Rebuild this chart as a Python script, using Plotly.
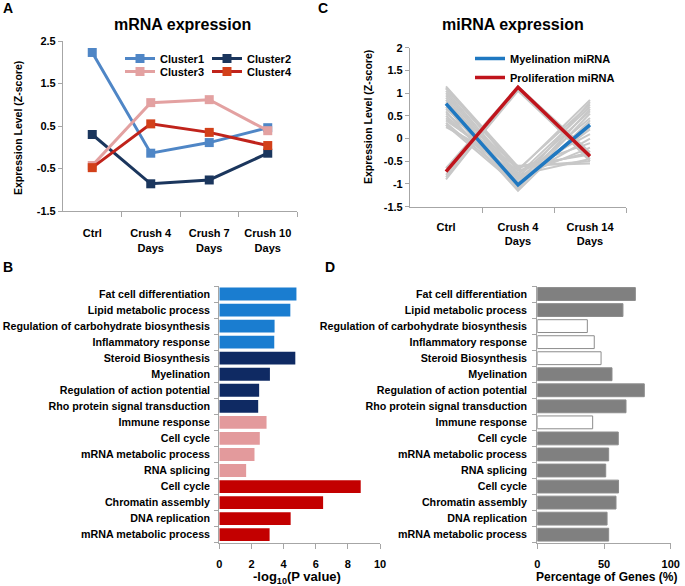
import plotly.graph_objects as go

# ---------------- data ----------------
a_times = ["Ctrl", "Crush 4<br>Days", "Crush 7<br>Days", "Crush 10<br>Days"]
cluster1 = [2.23, -0.14, 0.11, 0.46]
cluster2 = [0.30, -0.86, -0.77, -0.14]
cluster3 = [-0.43, 1.05, 1.12, 0.39]
cluster4 = [-0.48, 0.55, 0.35, 0.04]

c_times = ["Ctrl", "Crush 4<br>Days", "Crush 14<br>Days"]
myelination = [0.77, -1.02, 0.30]
proliferation = [-0.73, 1.13, -0.39]
grey_mirnas = [
    [1.15, -0.62, -0.50], [1.10, -0.70, 0.85], [1.05, -0.80, 0.70],
    [1.00, -0.85, 0.60], [0.95, -0.90, 0.45], [0.90, -1.00, 0.80],
    [0.85, -1.05, 0.35], [0.80, -0.95, 0.20], [0.70, -1.10, 0.55],
    [0.65, -0.75, 0.10], [0.60, -1.15, 0.40], [0.55, -0.65, -0.10],
    [0.50, -0.90, 0.00], [0.45, -0.85, -0.20], [0.40, -0.70, -0.30],
    [0.35, -1.00, 0.25], [0.30, -0.80, -0.45], [0.25, -0.60, -0.55],
    [0.30, -1.05, 0.65], [1.12, -0.68, 0.75], [0.75, -0.62, -0.35],
    [-0.90, 1.10, -0.35], [-0.85, 1.05, -0.45],
    [-0.65, 1.15, -0.30], [-0.80, 1.12, -0.50],
]

go_terms = [
    "Fat cell differentiation", "Lipid metabolic process",
    "Regulation of carbohydrate biosynthesis", "Inflammatory response",
    "Steroid Biosynthesis", "Myelination", "Regulation of action potential",
    "Rho protein signal transduction", "Immune response", "Cell cycle",
    "mRNA metabolic process", "RNA splicing", "Cell cycle",
    "Chromatin assembly", "DNA replication", "mRNA metabolic process",
]
go_cluster = [1, 1, 1, 1, 2, 2, 2, 2, 3, 3, 3, 3, 4, 4, 4, 4]
neg_log_p = [4.80, 4.42, 3.44, 3.42, 4.73, 3.15, 2.48, 2.42,
             2.94, 2.52, 2.19, 1.67, 8.80, 6.46, 4.44, 3.13]
pct_genes = [73.5, 64.2, 37.5, 42.7, 47.8, 56.0, 80.2, 66.5,
             41.5, 60.7, 53.5, 51.3, 60.9, 59.0, 52.3, 53.5]
pct_filled = [True, True, False, False, False, True, True, True,
              False, True, True, True, True, True, True, True]

# ---------------- style ----------------
FONT = "Liberation Sans, Arial, sans-serif"
AX = "#a6a6a6"
cl_line = {1: "#4f86c6", 2: "#1b365d", 3: "#e3a1a1", 4: "#c0231b"}
cl_mark = {1: "#4f86c6", 2: "#1b365d", 3: "#e3a1a1", 4: "#d2401a"}
bar_col = {1: "#1a7dd0", 2: "#0f2a63", 3: "#e39a9c", 4: "#c30000"}

fig = go.Figure()

# Panel A
for i, (name, vals) in enumerate([("Cluster1", cluster1), ("Cluster2", cluster2),
                                  ("Cluster3", cluster3), ("Cluster4", cluster4)]):
    k = i + 1
    fig.add_trace(go.Scatter(
        x=list(range(len(a_times))), y=vals, name=name, mode="lines+markers",
        line=dict(color=cl_line[k], width=3),
        marker=dict(symbol="square", size=9, color=cl_mark[k]),
        xaxis="x", yaxis="y", legend="legend" if k in (1, 2) else "legend2",
    ))

# Panel C
for g in grey_mirnas:
    fig.add_trace(go.Scatter(
        x=list(range(len(c_times))), y=g, mode="lines", showlegend=False,
        line=dict(color="#c8c8c8", width=2), xaxis="x2", yaxis="y2",
        hoverinfo="skip",
    ))
fig.add_trace(go.Scatter(x=list(range(len(c_times))), y=myelination, mode="lines",
                         name="Myelination miRNA", line=dict(color="#1f78c1", width=3.5),
                         xaxis="x2", yaxis="y2", legend="legend3"))
fig.add_trace(go.Scatter(x=list(range(len(c_times))), y=proliferation, mode="lines",
                         name="Proliferation miRNA", line=dict(color="#c0141c", width=3.5),
                         xaxis="x2", yaxis="y2", legend="legend3"))

# Panel B
fig.add_trace(go.Bar(
    x=neg_log_p, y=list(range(len(go_terms))), orientation="h", showlegend=False,
    marker=dict(color=[bar_col[c] for c in go_cluster], line=dict(width=0)),
    xaxis="x3", yaxis="y3",
))
# Panel D
fig.add_trace(go.Bar(
    x=pct_genes, y=list(range(len(go_terms))), orientation="h", showlegend=False,
    marker=dict(color=["#808080" if f else "#ffffff" for f in pct_filled],
                line=dict(color="#8c8c8c", width=1)),
    xaxis="x4", yaxis="y4",
))

W, H = 685, 586
def px(x):
    return x / W
def py(y):
    return 1 - y / H

tickfont = dict(family=FONT, size=11, color="#000000", weight="bold")
catfont = dict(family=FONT, size=10.7, color="#000000", weight="bold")

def line_axis(dom, rng, **kw):
    d = dict(domain=dom, range=rng, showline=True, linecolor=AX, linewidth=1.2,
             showgrid=False, zeroline=False, tickfont=tickfont, ticks="outside",
             ticklen=4, tickcolor=AX, automargin=False, fixedrange=True)
    d.update(kw)
    return d

legfont = dict(family=FONT, size=11, weight="bold", color="#000000")

layout = dict(
    width=W, height=H, margin=dict(l=0, r=0, t=0, b=0, autoexpand=False),
    plot_bgcolor="white", paper_bgcolor="white",
    font=dict(family=FONT, size=11, color="#000000"),
    bargap=0.2,
    # A
    xaxis=line_axis([px(63), px(297)], [-0.5, 3.5], anchor="y",
                    tickvals=list(range(4)), ticktext=a_times, ticks="",
                    ticklabelstandoff=12,
                    minor=dict(tickvals=[0.5, 1.5, 2.5, 3.5], ticks="outside",
                               ticklen=5, tickcolor=AX)),
    yaxis=line_axis([py(211), py(41)], [-1.5, 2.5], anchor="x",
                    tickvals=[-1.5, -0.5, 0.5, 1.5, 2.5],
                    ticktext=["-1.5", "-0.5", "0.5", "1.5", "2.5"]),
    # C
    xaxis2=line_axis([px(410), px(626)], [-0.5, 2.5], anchor="y2",
                     tickvals=list(range(3)), ticktext=c_times, ticks="",
                     ticklabelstandoff=10,
                     minor=dict(tickvals=[0.5, 1.5, 2.5], ticks="outside",
                                ticklen=5, tickcolor=AX)),
    yaxis2=line_axis([py(206.7), py(47.7)], [-1.5, 2], anchor="x2",
                     tickvals=[-1.5, -1, -0.5, 0, 0.5, 1, 1.5, 2],
                     ticktext=["-1.5", "-1", "-0.5", "0", "0.5", "1", "1.5", "2"]),
    # B
    xaxis3=line_axis([px(219.3), px(380)], [0, 10], anchor="y3",
                     tickvals=[0, 2, 4, 6, 8, 10], ticklen=5, ticklabelstandoff=6),
    yaxis3=line_axis([py(542.7), py(286)], [15.5, -0.5], anchor="x3",
                     tickvals=list(range(16)), ticktext=go_terms, ticks="",
                     ticklabelstandoff=6, tickfont=catfont,
                     minor=dict(tickvals=[i - 0.5 for i in range(17)], ticks="outside",
                                ticklen=4, tickcolor=AX)),
    # D
    xaxis4=line_axis([px(537.3), px(670.7)], [0, 100], anchor="y4",
                     tickvals=[0, 50, 100], ticklen=5, ticklabelstandoff=6),
    yaxis4=line_axis([py(542.7), py(286)], [15.5, -0.5], anchor="x4",
                     tickvals=list(range(16)), ticktext=go_terms, ticks="",
                     ticklabelstandoff=7, tickfont=catfont,
                     minor=dict(tickvals=[i - 0.5 for i in range(17)], ticks="outside",
                                ticklen=4, tickcolor=AX)),
    legend=dict(orientation="h", x=px(120), y=py(44), xanchor="left", yanchor="top",
                bgcolor="rgba(0,0,0,0)", entrywidth=42, entrywidthmode="pixels",
                font=legfont, itemwidth=30, tracegroupgap=0),
    legend2=dict(orientation="h", x=px(120), y=py(57), xanchor="left", yanchor="top",
                 bgcolor="rgba(0,0,0,0)", entrywidth=42, entrywidthmode="pixels",
                 font=legfont, itemwidth=30, tracegroupgap=0),
    legend3=dict(orientation="v", x=px(470), y=py(44), xanchor="left", yanchor="top",
                 bgcolor="rgba(0,0,0,0)", font=legfont, itemwidth=30, tracegroupgap=0),
)

ann = [
    dict(text="A", x=px(8), y=py(8), font=dict(size=14, weight="bold")),
    dict(text="C", x=px(323), y=py(8), font=dict(size=14, weight="bold")),
    dict(text="B", x=px(8), y=py(267), font=dict(size=14, weight="bold")),
    dict(text="D", x=px(330), y=py(267), font=dict(size=14, weight="bold")),
    dict(text="mRNA expression", x=px(182), y=py(25), font=dict(size=16, weight="bold")),
    dict(text="miRNA expression", x=px(513), y=py(25), font=dict(size=16, weight="bold")),
    dict(text="Expression Level (Z-score)", x=px(18), y=py(128), textangle=-90,
         font=dict(size=10.5, weight="bold")),
    dict(text="Expression Level (Z-score)", x=px(368), y=py(117), textangle=-90,
         font=dict(size=10.5, weight="bold")),
    dict(text="-log<sub>10</sub>(P value)", x=px(297), y=py(577),
         font=dict(size=13, weight="bold")),
    dict(text="Percentage of Genes (%)", x=px(606), y=py(577),
         font=dict(size=12, weight="bold")),
]
for a in ann:
    a["font"].update(family=FONT, color="#000000")
    a.update(xref="paper", yref="paper", showarrow=False, xanchor="center",
             yanchor="middle")
layout["annotations"] = ann

fig.update_layout(**layout)
fig.write_html("out.html", config={"displayModeBar": False},
               post_script="document.body.style.margin='0px';")
